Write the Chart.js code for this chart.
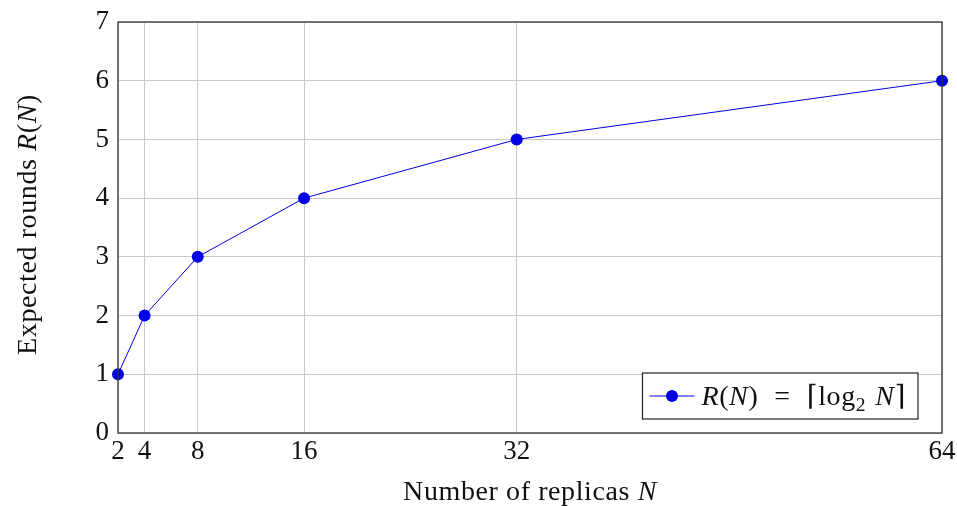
<!DOCTYPE html>
<html>
<head>
<meta charset="utf-8">
<script src="https://cdn.jsdelivr.net/npm/chart.js@4.4.1/dist/chart.umd.min.js"></script>
<style>
  html, body { margin: 0; padding: 0; background: #fff; }
  #wrap { width: 957px; height: 506px; }
</style>
</head>
<body>
<div id="wrap"><canvas id="chart" width="957" height="506"></canvas></div>
<script>
const replicas = [2, 4, 8, 16, 32, 64];
const rounds = [1, 2, 3, 4, 5, 6];
const xTicks = [2, 4, 8, 16, 32, 64];
const yTicks = [0, 1, 2, 3, 4, 5, 6, 7];

const serif = '"Liberation Serif", "DejaVu Serif", serif';
const blue = 'rgb(0,0,230)';

// draw a run of [text, style] pieces starting at x; returns end x
function drawRuns(ctx, runs, x, y, size) {
  runs.forEach(function (r) {
    if (r.gap) { x += r.gap; return; }
    const sz = r.sub ? size * 0.7 : size;
    ctx.font = (r.it ? 'italic ' : '') + sz + 'px ' + serif;
    ctx.fillText(r.t, x, y + (r.sub ? size * 0.22 : 0));
    x += ctx.measureText(r.t).width;
  });
  return x;
}
function runsWidth(ctx, runs, size) {
  let w = 0;
  runs.forEach(function (r) {
    if (r.gap) { w += r.gap; return; }
    const sz = r.sub ? size * 0.7 : size;
    ctx.font = (r.it ? 'italic ' : '') + sz + 'px ' + serif;
    w += ctx.measureText(r.t).width;
  });
  return w;
}

const decorPlugin = {
  id: 'decor',
  afterDraw: function (chart) {
    const ctx = chart.ctx;
    const a = chart.chartArea;
    ctx.save();
    // frame
    ctx.strokeStyle = '#333';
    ctx.lineWidth = 1.3;
    ctx.strokeRect(a.left, a.top, a.right - a.left, a.bottom - a.top);

    ctx.fillStyle = '#111';
    ctx.textBaseline = 'alphabetic';
    ctx.letterSpacing = '0.6px';

    // x title
    const xRuns = [{ t: 'Number of replicas ' }, { t: 'N', it: true }];
    const xw = runsWidth(ctx, xRuns, 28);
    drawRuns(ctx, xRuns, (a.left + a.right) / 2 - xw / 2, 500, 28);

    // y title
    const yRuns = [{ t: 'Expected rounds ' }, { t: 'R', it: true }, { t: '(' }, { t: 'N', it: true }, { t: ')' }];
    const yw = runsWidth(ctx, yRuns, 28);
    ctx.save();
    ctx.translate(36, (a.top + a.bottom) / 2 - 3);
    ctx.rotate(-Math.PI / 2);
    drawRuns(ctx, yRuns, -yw / 2, 0, 28);
    ctx.restore();

    // legend
    const lRuns = [{ t: 'R', it: true }, { t: '(' }, { t: 'N', it: true }, { t: ')' }, { gap: 16 }, { t: '=' }, { gap: 16 },
      { t: '⌈log' }, { t: '2', sub: true }, { gap: 9 }, { t: 'N', it: true }, { t: '⌉' }];
    const lw = runsWidth(ctx, lRuns, 28);
    const bx2 = a.right - 24, by2 = a.bottom - 14;
    const bw = 7 + 45 + 7 + lw + 12, bh = 46;
    const bx = bx2 - bw, by = by2 - bh;
    ctx.fillStyle = '#fff';
    ctx.fillRect(bx, by, bw, bh);
    ctx.strokeStyle = '#222';
    ctx.lineWidth = 1.2;
    ctx.strokeRect(bx, by, bw, bh);
    const cy = by + bh / 2;
    ctx.strokeStyle = blue;
    ctx.lineWidth = 1;
    ctx.beginPath();
    ctx.moveTo(bx + 7, cy);
    ctx.lineTo(bx + 52, cy);
    ctx.stroke();
    ctx.fillStyle = blue;
    ctx.beginPath();
    ctx.arc(bx + 29.5, cy, 6, 0, Math.PI * 2);
    ctx.fill();
    ctx.fillStyle = '#111';
    drawRuns(ctx, lRuns, bx + 59, cy + 9, 28);
    ctx.restore();
  }
};

new Chart(document.getElementById('chart'), {
  type: 'line',
  data: {
    datasets: [{
      data: replicas.map(function (n, i) { return { x: n, y: rounds[i] }; }),
      borderColor: blue,
      backgroundColor: blue,
      borderWidth: 1,
      pointRadius: 6,
      pointHoverRadius: 6,
      pointBorderWidth: 0,
      tension: 0,
      clip: false
    }]
  },
  options: {
    responsive: false,
    animation: false,
    events: [],
    layout: { padding: { top: 22, right: 15, left: 0, bottom: 0 } },
    plugins: { legend: { display: false }, tooltip: { enabled: false } },
    scales: {
      x: {
        type: 'linear',
        min: 2,
        max: 64,
        afterBuildTicks: function (s) { s.ticks = xTicks.map(function (v) { return { value: v }; }); },
        afterFit: function (s) { s.height = 73; s.paddingLeft = 0; s.paddingRight = 0; },
        grid: { color: '#c8c8c8', lineWidth: 1, drawTicks: false },
        border: { display: false },
        ticks: { color: '#111', font: { family: serif, size: 27 }, padding: 3, maxRotation: 0, autoSkip: false }
      },
      y: {
        min: 0,
        max: 7,
        afterBuildTicks: function (s) { s.ticks = yTicks.map(function (v) { return { value: v }; }); },
        afterFit: function (s) { s.width = 118; s.paddingTop = 0; s.paddingBottom = 0; },
        grid: { color: '#c8c8c8', lineWidth: 1, drawTicks: false },
        border: { display: false },
        ticks: { color: '#111', font: { family: serif, size: 27 }, padding: 9 }
      }
    }
  },
  plugins: [decorPlugin]
});
</script>
</body>
</html>
